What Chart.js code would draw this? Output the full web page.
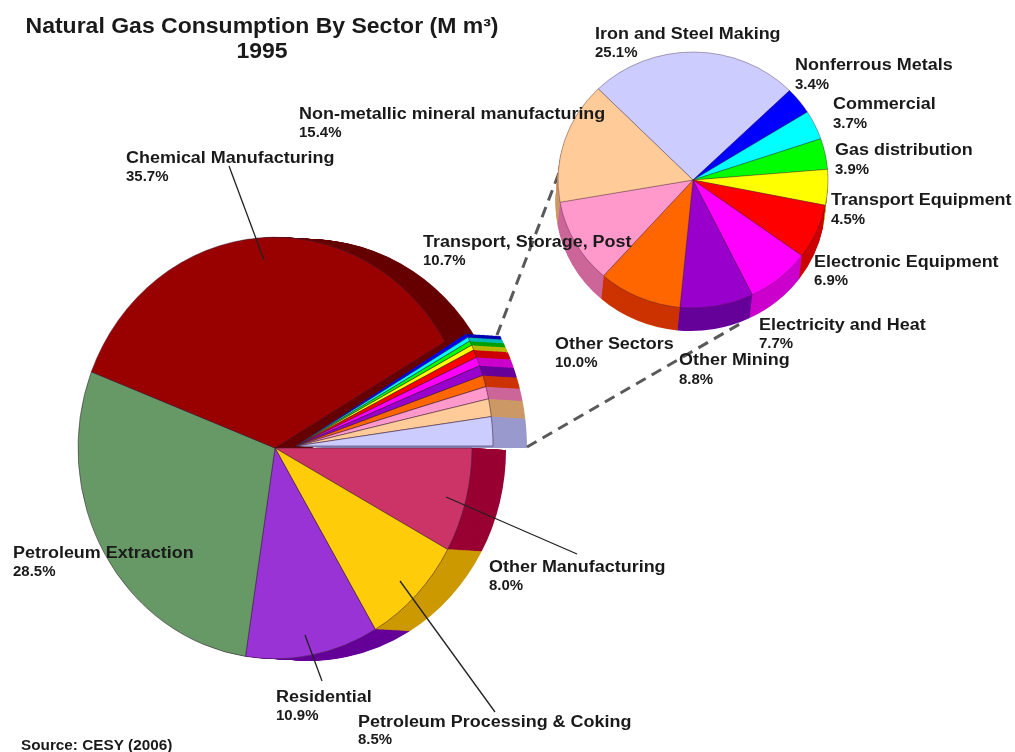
<!DOCTYPE html>
<html><head><meta charset="utf-8">
<style>html,body{margin:0;padding:0;background:#fff;width:1015px;height:752px;overflow:hidden}
canvas{position:absolute;left:0;top:0}</style>
<script src="https://cdn.jsdelivr.net/npm/chart.js@4"></script></head>
<body>
<div style="position:absolute;left:0;top:0;width:1015px;height:752px"><canvas id="main" width="1015" height="752"></canvas></div>
<div style="position:absolute;left:0;top:0;width:1015px;height:752px"><canvas id="detail" width="1015" height="752"></canvas></div>
<script>
// Main pie, clockwise from due east
const mainCategories = ["Other Manufacturing","Petroleum Processing & Coking","Residential","Petroleum Extraction","Chemical Manufacturing",
  "Nonferrous Metals","Commercial","Gas distribution","Transport Equipment","Electronic Equipment","Electricity and Heat","Other Mining","Other Sectors","Transport, Storage, Post","Non-metallic mineral manufacturing","Iron and Steel Making"];
const mainValues = [8.0,8.5,10.9,28.5,35.7, 0.29,0.31,0.33,0.38,0.58,0.65,0.74,0.84,0.90,1.29,2.11];
const mainColors = ["#CC3366","#FFCC0A","#9933D6","#669966","#990000",
  "#0000FF","#00FFFF","#00FF00","#FFFF00","#FF0000","#FF00FF","#9900CC","#FF6600","#FF99CC","#FFCC99","#CCCCFF"];
const mainDark = ["#990033","#CC9900","#660099","#4D734D","#660000",
  "#0000B0","#00B8B8","#00A000","#B8B800","#CC0000","#CC00CC","#660099","#CC3300","#CC6699","#CC9966","#9999CC"];
const fanStart = 5;

// Breakdown pie, clockwise from Iron and Steel Making
const detailCategories = ["Iron and Steel Making","Nonferrous Metals","Commercial","Gas distribution","Transport Equipment","Electronic Equipment","Electricity and Heat","Other Mining","Other Sectors","Transport, Storage, Post","Non-metallic mineral manufacturing"];
const detailValues = [25.1,3.4,3.7,3.9,4.5,6.9,7.7,8.8,10.0,10.7,15.4];
const detailColors = ["#CCCCFF","#0000FF","#00FFFF","#00FF00","#FFFF00","#FF0000","#FF00FF","#9900CC","#FF6600","#FF99CC","#FFCC99"];
const detailDark = ["#9999CC","#0000B0","#00B8B8","#00A000","#B8B800","#CC0000","#CC00CC","#660099","#CC3300","#CC6699","#CC9966"];

const titleLines = ["Natural Gas Consumption By Sector (M m³)","1995"];
const sourceText = "Source: CESY (2006)";
// [name, percent, x, name baseline, percent baseline]
const labelRows = [
 ["Iron and Steel Making","25.1%",595,39,57],
 ["Nonferrous Metals","3.4%",795,70,89],
 ["Commercial","3.7%",833,109,128],
 ["Gas distribution","3.9%",835,155,174],
 ["Transport Equipment","4.5%",831,205,224],
 ["Electronic Equipment","6.9%",814,267,285],
 ["Electricity and Heat","7.7%",759,330,348],
 ["Other Mining","8.8%",679,365,384],
 ["Other Sectors","10.0%",555,349,367],
 ["Transport, Storage, Post","10.7%",423,247,265],
 ["Non-metallic mineral manufacturing","15.4%",299,119,137],
 ["Chemical Manufacturing","35.7%",126,163,181],
 ["Petroleum Extraction","28.5%",13,558,576],
 ["Other Manufacturing","8.0%",489,572,590],
 ["Residential","10.9%",276,702,720],
 ["Petroleum Processing & Coking","8.5%",358,727,744]
];
const leaderLines = [[229,166,264,260],[446,497,577,554],[400,581,495,712],[305,635,322,681]];
const connectorLines = [[497,335,562,165],[527,447,745,321]];

function arcCopy(el, color){
  return Object.create(el,{options:{value:{backgroundColor:color,borderColor:color,borderWidth:0,offset:0,spacing:0,
    borderAlign:'center',circular:true,borderRadius:0,borderDash:[],borderDashOffset:0,borderJoinStyle:'round'}}});
}
function solidPie(cfg){
  const baseDraw=(el,ctx)=>Chart.ArcElement.prototype.draw.call(el,ctx);
  const fanDraw=(el,ctx)=>{
    ctx.save();ctx.translate(el.x,el.y);ctx.scale(1,cfg.fanStretch);ctx.translate(-el.x,-el.y);
    baseDraw(el,ctx);ctx.restore();
  };
  return {
    id:'solid'+cfg.name,
    beforeDatasetsDraw(chart){
      const ctx=chart.ctx, a=chart.chartArea, cx=(a.left+a.right)/2, cy=(a.top+a.bottom)/2;
      const els=chart.getDatasetMeta(0).data;
      const isFan=i=>cfg.fanStart!==undefined&&i>=cfg.fanStart;
      els.forEach((el,i)=>{ if(isFan(i)){
        el.x=cx+cfg.fanShift[0]; el.y=cy+cfg.fanShift[1]/cfg.squash;
        el.draw=function(c){fanDraw(this,c);};
      }});
      ctx.save();
      ctx.translate(cx,cy); ctx.scale(1,cfg.squash); ctx.translate(-cx,-cy);
      const steps=Math.ceil(Math.hypot(cfg.depth[0],cfg.depth[1]));
      const sweep=(from,to)=>{
        for(let k=steps;k>=1;k--){
          ctx.save();
          ctx.translate(cfg.depth[0]*k/steps,cfg.depth[1]*k/steps/cfg.squash);
          for(let i=from;i<to;i++){
            const c=arcCopy(els[i],cfg.dark[i]);
            if(isFan(i)) fanDraw(c,ctx); else baseDraw(c,ctx);
          }
          ctx.restore();
        }
      };
      if(cfg.fanStart!==undefined){ sweep(0,cfg.fanStart); sweep(cfg.fanStart,els.length); }
      else sweep(0,els.length);
    },
    afterDatasetsDraw(chart){
      chart.ctx.restore();
      if(cfg.after) cfg.after(chart.ctx);
    }
  };
}
function drawLines(ctx,list,color,width,dash){
  ctx.save();ctx.strokeStyle=color;ctx.lineWidth=width;ctx.setLineDash(dash);
  list.forEach(l=>{ctx.beginPath();ctx.moveTo(l[0],l[1]);ctx.lineTo(l[2],l[3]);ctx.stroke();});
  ctx.restore();
}
function wideText(ctx,text,x,y,font,align){
  ctx.save();ctx.font=font;ctx.textAlign=align;ctx.translate(x,y);ctx.scale(1.07,1);ctx.fillText(text,0,0);ctx.restore();
}
const textPlugin={
  id:'texts',
  afterDraw(chart){
    const ctx=chart.ctx; ctx.save(); ctx.fillStyle='#1a1a1a'; ctx.textBaseline='alphabetic';
    const tf='bold 21.5px "Liberation Sans"';
    wideText(ctx,titleLines[0],262,33,tf,'center'); wideText(ctx,titleLines[1],262,58,tf,'center');
    labelRows.forEach(r=>{
      wideText(ctx,r[0],r[2],r[3],'bold 16.8px "Liberation Sans"','left');
      wideText(ctx,r[1],r[2],r[4],'bold 14px "Liberation Sans"','left');
    });
    wideText(ctx,sourceText,21,750,'bold 14.3px "Liberation Sans"','left');
    ctx.restore();
  }
};
const common={responsive:false,animation:false,events:[],
  plugins:{legend:{display:false},tooltip:{enabled:false},title:{display:false}}};
const edge='rgba(60,30,60,0.65)';
new Chart(document.getElementById('main'),{
  type:'pie',
  data:{labels:mainCategories,datasets:[{data:mainValues,backgroundColor:mainColors,borderColor:edge,borderWidth:0.8,clip:false}]},
  options:{...common,rotation:90,radius:197,layout:{padding:{left:0,right:465,top:144,bottom:0}}},
  plugins:[solidPie({name:'Main',squash:1.07,depth:[34,2],dark:mainDark,fanStart:fanStart,fanShift:[21,-2],fanStretch:1.055,
    after(ctx){drawLines(ctx,connectorLines,'#595959',3,[11,7]);drawLines(ctx,leaderLines,'#222',1.3,[]);}})]
});
new Chart(document.getElementById('detail'),{
  type:'pie',
  data:{labels:detailCategories,datasets:[{data:detailValues,backgroundColor:detailColors,borderColor:edge,borderWidth:0.6,clip:false}]},
  options:{...common,rotation:-44.6,radius:135,layout:{padding:{left:371,right:0,top:0,bottom:392}}},
  plugins:[solidPie({name:'Detail',squash:0.948,depth:[-2.5,23],dark:detailDark}),textPlugin]
});
</script>
</body></html>
